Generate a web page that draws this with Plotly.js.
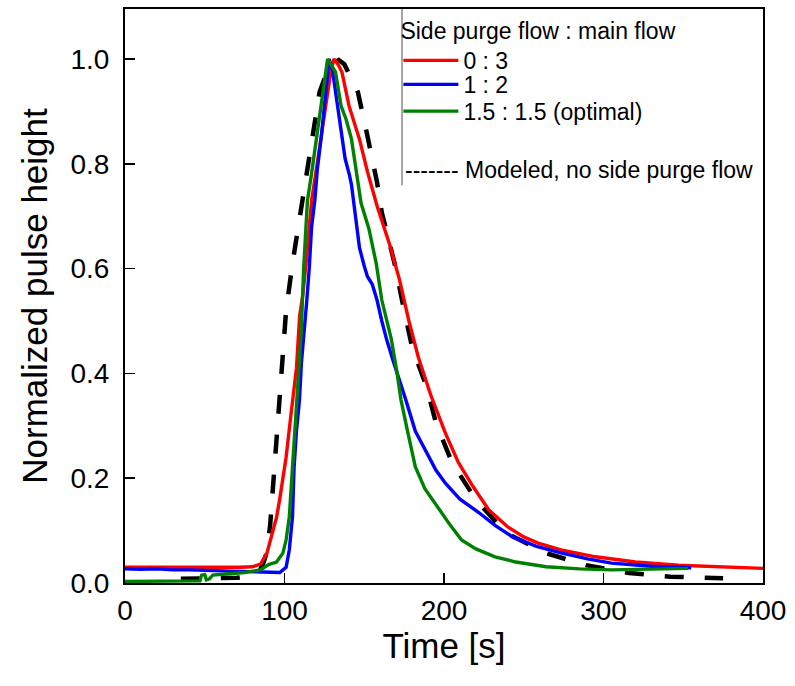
<!DOCTYPE html>
<html>
<head>
<meta charset="utf-8">
<script src="https://cdn.plot.ly/plotly-3.0.1.min.js"></script>
<style>
  html, body { margin: 0; padding: 0; background: #ffffff; }
  #chart { width: 795px; height: 686px; }
</style>
</head>
<body>
<div id="chart"></div>
<script>
// ---- data ----
const seriesNames = ["0 : 3", "1 : 2", "1.5 : 1.5 (optimal)"];
const legendTitle = "Side purge flow : main flow";
const modelLabel = "------- Modeled, no side purge flow";

const redT = [0, 20, 40, 60, 72, 80, 85, 89, 92.5, 95, 97, 99, 101, 104, 107.5, 109.5, 111.5, 113.5, 115.5, 117, 120, 123, 126, 129, 131, 133.5, 136, 140.5, 147, 152, 158, 166, 172, 178, 184, 192, 201, 209, 218, 228, 240, 250, 259, 275, 295, 320, 347, 370, 400];
const redY = [0.030, 0.030, 0.029, 0.029, 0.030, 0.031, 0.036, 0.057, 0.095, 0.125, 0.160, 0.200, 0.240, 0.320, 0.410, 0.510, 0.550, 0.610, 0.680, 0.730, 0.790, 0.850, 0.910, 0.975, 1.000, 0.990, 0.975, 0.910, 0.847, 0.785, 0.720, 0.645, 0.580, 0.500, 0.430, 0.356, 0.285, 0.230, 0.185, 0.140, 0.107, 0.088, 0.076, 0.062, 0.050, 0.040, 0.034, 0.031, 0.028];

const blueT = [0, 10, 20, 30, 40, 50, 60, 70, 80, 90, 97, 101, 103, 105, 106, 107.5, 109.4, 110.6, 112.5, 114, 115.5, 117, 119, 120.6, 123, 125, 127, 128, 130, 132, 134, 136, 138, 140.6, 142, 144.5, 147, 150, 152, 155, 158, 161, 164, 168, 172, 176, 182, 189, 195, 201, 210, 222, 232, 243, 258, 274, 290, 305, 330, 355];
const blueY = [0.027, 0.026, 0.027, 0.025, 0.025, 0.024, 0.023, 0.022, 0.021, 0.020, 0.020, 0.030, 0.063, 0.126, 0.220, 0.290, 0.350, 0.420, 0.480, 0.540, 0.600, 0.680, 0.730, 0.790, 0.850, 0.910, 0.975, 1.000, 0.980, 0.940, 0.890, 0.850, 0.810, 0.780, 0.760, 0.700, 0.640, 0.605, 0.585, 0.570, 0.540, 0.500, 0.465, 0.425, 0.388, 0.350, 0.290, 0.250, 0.215, 0.190, 0.160, 0.134, 0.110, 0.088, 0.070, 0.057, 0.046, 0.038, 0.032, 0.029];

const greenT = [0, 20, 40, 47, 48, 50, 51, 53, 55, 65, 75, 85, 90, 95, 99, 101, 103, 105, 108, 110.5, 112, 114.4, 116.9, 120, 123, 125, 127, 129, 132, 135.5, 138.6, 142, 145, 148, 153, 157.5, 161, 167, 170.6, 173, 176.9, 182, 188, 197, 204, 211, 220, 232, 245, 264, 285, 305, 330, 353];
const greenY = [0.003, 0.003, 0.003, 0.004, 0.015, 0.016, 0.006, 0.008, 0.015, 0.017, 0.020, 0.025, 0.035, 0.040, 0.057, 0.082, 0.126, 0.220, 0.350, 0.480, 0.600, 0.730, 0.780, 0.850, 0.910, 0.955, 1.000, 0.990, 0.975, 0.910, 0.885, 0.847, 0.780, 0.725, 0.675, 0.610, 0.540, 0.465, 0.400, 0.350, 0.293, 0.222, 0.180, 0.140, 0.110, 0.082, 0.065, 0.050, 0.040, 0.031, 0.027, 0.025, 0.026, 0.028];

const modelT = [35, 50, 60, 70, 80, 84, 87, 89, 91, 93, 95, 97, 98.5, 101, 105, 109, 113.5, 117, 122, 128, 134, 137.5, 146, 152, 158, 161, 169, 174, 180, 189, 195, 205, 220, 239, 264, 289, 316, 342, 375];
const modelY = [0.008, 0.009, 0.009, 0.010, 0.013, 0.020, 0.040, 0.060, 0.110, 0.190, 0.280, 0.360, 0.430, 0.520, 0.610, 0.690, 0.770, 0.847, 0.937, 0.987, 0.998, 0.990, 0.937, 0.853, 0.765, 0.707, 0.610, 0.535, 0.450, 0.375, 0.305, 0.230, 0.159, 0.095, 0.057, 0.034, 0.019, 0.012, 0.009];

const xTicks = [0, 100, 200, 300, 400];
const yTicks = [0.0, 0.2, 0.4, 0.6, 0.8, 1.0];

// ---- figure ----
const FONT = "Arial, 'Liberation Sans', sans-serif";
const LEGX = 0.4285;

const traces = [
  { x: modelT, y: modelY, mode: "lines", name: "Modeled", showlegend: false,
    line: { color: "#000000", width: 4.5, dash: "19px,21px" } },
  { x: redT, y: redY, mode: "lines", name: seriesNames[0], legend: "legend",
    line: { color: "#ff0000", width: 3.4 } },
  { x: blueT, y: blueY, mode: "lines", name: seriesNames[1], legend: "legend2",
    line: { color: "#0000ff", width: 3.4 } },
  { x: greenT, y: greenY, mode: "lines", name: seriesNames[2], legend: "legend3",
    line: { color: "#008000", width: 3.4 } }
];

function legendBox(y, title) {
  const o = {
    x: LEGX, y: y, xanchor: "left", yanchor: "top",
    font: { family: FONT, size: 23, color: "#000" },
    bgcolor: "rgba(0,0,0,0)", borderwidth: 0, itemwidth: 55
  };
  if (title) o.title = { text: title, font: { family: FONT, size: 23, color: "#000" } };
  return o;
}

const layout = {
  width: 795, height: 686,
  margin: { l: 125, r: 32, t: 9, b: 103 },
  paper_bgcolor: "#ffffff", plot_bgcolor: "#ffffff",
  font: { family: FONT, color: "#000000" },
  showlegend: true,
  legend: legendBox(1.0, legendTitle),
  legend2: legendBox(0.906, null),
  legend3: legendBox(0.8595, null),
  xaxis: {
    range: [0, 400], tickvals: xTicks, ticktext: xTicks.map(String),
    ticks: "inside", ticklen: 10, tickwidth: 1.5, tickcolor: "#000",
    showline: true, linecolor: "#000", linewidth: 2, mirror: true,
    showgrid: false, zeroline: false,
    tickfont: { family: FONT, size: 28, color: "#000" },
    ticklabelstandoff: 1,
    title: { text: "Time [s]", font: { family: FONT, size: 35, color: "#000" }, standoff: 0 }
  },
  yaxis: {
    range: [0, 1.0954], tickvals: yTicks, ticktext: yTicks.map(v => v.toFixed(1)),
    ticks: "inside", ticklen: 10, tickwidth: 1.5, tickcolor: "#000",
    showline: true, linecolor: "#000", linewidth: 2, mirror: true,
    showgrid: false, zeroline: false,
    tickfont: { family: FONT, size: 28, color: "#000" },
    ticklabelstandoff: 8,
    title: { text: "Normalized pulse height", font: { family: FONT, size: 35, color: "#000" }, standoff: 12 }
  },
  shapes: [
    { type: "line", xref: "paper", yref: "paper", x0: 0.4342, x1: 0.4342, y0: 0.693, y1: 1,
      line: { color: "#888888", width: 1.5 } }
  ],
  annotations: [
    { xref: "paper", yref: "paper", x: 0.4357, y: 0.7195, xanchor: "left", yanchor: "middle",
      text: modelLabel, showarrow: false, font: { family: FONT, size: 23, color: "#000" } }
  ]
};

Plotly.newPlot("chart", traces, layout, { displayModeBar: false, staticPlot: true });
</script>
</body>
</html>
